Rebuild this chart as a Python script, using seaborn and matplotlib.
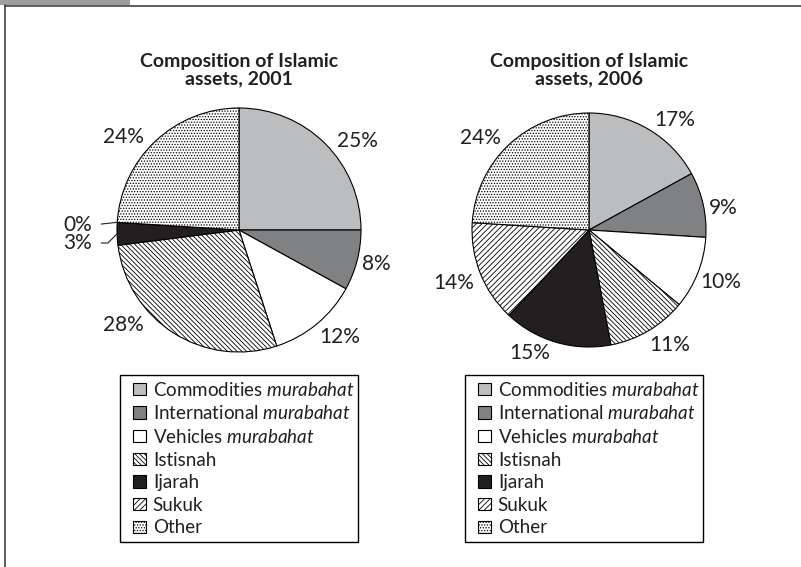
import matplotlib
matplotlib.use("Agg")
import matplotlib.pyplot as plt
import seaborn as sns
from matplotlib.patches import Rectangle, Wedge
from matplotlib.lines import Line2D
from matplotlib.legend_handler import HandlerPatch
import numpy as np

# ---------------- data ----------------
categories = ["Commodities murabahat", "International murabahat", "Vehicles murabahat",
              "Istisnah", "Ijarah", "Sukuk", "Other"]
legend_labels = [r"Commodities $\it{murabahat}$", r"International $\it{murabahat}$",
                 r"Vehicles $\it{murabahat}$", "Istisnah", "Ijarah", "Sukuk", "Other"]
values_2001 = [25, 8, 12, 28, 3, 0, 24]
values_2006 = [17, 9, 10, 11, 15, 14, 24]
titles = ["Composition of Islamic\nassets, 2001", "Composition of Islamic\nassets, 2006"]

# ---------------- styles ----------------
fills = ["#bcbdbf", "#808183", "#ffffff", "#ffffff", "#231f20", "#ffffff", "#ffffff"]
hatches = [None, None, None, "\\" * 7, None, "/" * 6, "." * 6]
INK = "#231f20"

sns.set_theme(style="white")
plt.rcParams["font.family"] = ["Lato", "DejaVu Sans"]
plt.rcParams["mathtext.fontset"] = "custom"
plt.rcParams["mathtext.rm"] = "Lato"
plt.rcParams["mathtext.it"] = "Lato:italic"
plt.rcParams["hatch.linewidth"] = 0.6

W, H = 801, 567
fig = plt.figure(figsize=(W / 100, H / 100), dpi=100)
fig.patch.set_facecolor("white")
ax = fig.add_axes([0, 0, 1, 1])


def Y(y):
    return H - y


# layout (pixel positions in image coordinates)
pies = [
    dict(values=values_2001, cx=239, cy=230, r=122, title=titles[0],
         labels=[(357, 141), (376, 264), (340, 337), (123, 325), (78, 243), (78, 225), (123, 137)],
         legend=(120, 375, 238)),
    dict(values=values_2006, cx=589, cy=230, r=117, title=titles[1],
         labels=[(675, 120), (723, 208), (721, 282), (670, 345), (530, 353), (454, 283), (480, 138)],
         legend=(465, 375, 238)),
]


def square_patch(legend, orig_handle, xdescent, ydescent, width, height, fontsize):
    s = height
    return Rectangle((-xdescent + width - s, -ydescent), s, s)


legends = []
for i, p in enumerate(pies):
    wedges, _ = ax.pie(p["values"], colors=fills, startangle=90, counterclock=False,
                       radius=p["r"], center=(p["cx"], Y(p["cy"])), frame=True,
                       wedgeprops=dict(edgecolor="black", linewidth=0.8))
    for w, h in zip(wedges, hatches):
        if h:
            w.set_hatch(h)
    # percentage labels
    for k, (v, (lx, ly)) in enumerate(zip(p["values"], p["labels"])):
        txt = f"{v}%"
        if i == 0 and k in (4, 5):
            w = wedges[k]
            th = np.deg2rad((w.theta1 + w.theta2) / 2)
            ex = p["cx"] + p["r"] * np.cos(th)
            ey = Y(p["cy"]) + p["r"] * np.sin(th)
            cs = "angle,angleA=0,angleB=45,rad=0" if k == 4 else "arc3,rad=0"
            ax.annotate(txt, xy=(ex, ey), xytext=(lx, Y(ly)), ha="center", va="center",
                        fontsize=15, color=INK,
                        arrowprops=dict(arrowstyle="-", color=INK, lw=0.8, relpos=(1, 0.5),
                                        shrinkA=4, shrinkB=0, connectionstyle=cs))
        else:
            ax.text(lx, Y(ly), txt, ha="center", va="center", fontsize=15, color=INK)
    # title
    ax.text(p["cx"], Y(70), p["title"], ha="center", va="center", fontsize=14,
            fontweight="bold", color=INK, linespacing=1.0)
    # legend
    lx0, ly0, lw = p["legend"]
    leg = ax.legend(handles=wedges, labels=legend_labels, loc="upper left",
                    bbox_to_anchor=(lx0, Y(ly0) - 170, lw, 170), bbox_transform=ax.transData,
                    mode="expand", frameon=True, fancybox=False, edgecolor="black",
                    framealpha=1, fontsize=13.5, handlelength=1.07, handleheight=0.64,
                    handletextpad=0.38, borderpad=0.3, labelspacing=0.3, borderaxespad=0,
                    labelcolor=INK, handler_map={Wedge: HandlerPatch(patch_func=square_patch)})
    leg.get_frame().set_linewidth(1.0)
    legends.append(leg)

for leg in legends[:-1]:
    ax.add_artist(leg)

# frame decorations
ax.add_patch(Rectangle((0, Y(5)), 130, 5, facecolor="#9d9d9d", edgecolor="none"))
ax.add_line(Line2D([4.5, 4.5], [0, Y(5)], color="#333333", lw=1.1))
ax.add_line(Line2D([4.5, W], [Y(5.5), Y(5.5)], color="#333333", lw=1.1))

ax.set_xlim(0, W)
ax.set_ylim(0, H)
ax.set_aspect("equal")
ax.set_axis_off()

fig.savefig("out.png", dpi=100, facecolor="white")
